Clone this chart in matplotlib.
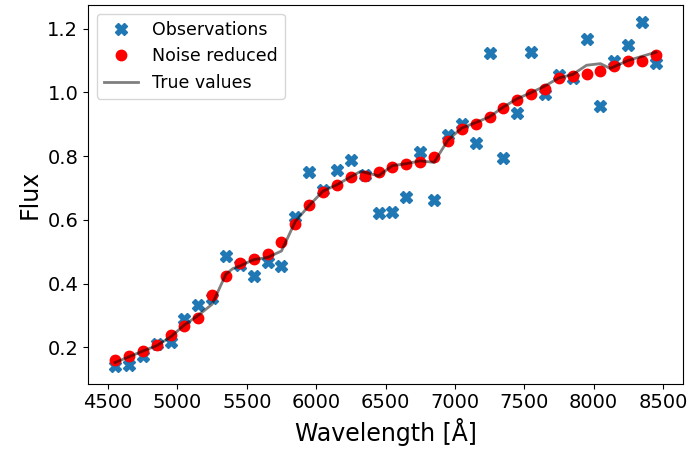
import matplotlib
matplotlib.use("Agg")
import matplotlib.pyplot as plt

wave = [4550, 4650, 4750, 4850, 4950, 5050, 5150, 5250, 5350, 5450,
        5550, 5650, 5750, 5850, 5950, 6050, 6150, 6250, 6350, 6450,
        6550, 6650, 6750, 6850, 6950, 7050, 7150, 7250, 7350, 7450,
        7550, 7650, 7750, 7850, 7950, 8050, 8150, 8250, 8350, 8450]

observed = [0.140, 0.143, 0.171, 0.209, 0.218, 0.288, 0.334, 0.353, 0.485, 0.459,
            0.422, 0.468, 0.455, 0.608, 0.751, 0.695, 0.757, 0.788, 0.742, 0.622,
            0.624, 0.673, 0.812, 0.663, 0.867, 0.901, 0.840, 1.124, 0.793, 0.934,
            1.126, 0.995, 1.054, 1.046, 1.166, 0.957, 1.098, 1.147, 1.220, 1.091]

reduced = [0.160, 0.174, 0.188, 0.207, 0.238, 0.268, 0.293, 0.365, 0.425, 0.463,
           0.477, 0.492, 0.529, 0.588, 0.645, 0.687, 0.709, 0.733, 0.737, 0.749,
           0.765, 0.775, 0.780, 0.798, 0.848, 0.884, 0.902, 0.921, 0.952, 0.976,
           0.996, 1.011, 1.045, 1.051, 1.059, 1.067, 1.084, 1.098, 1.098, 1.116]

true_wave = [4550, 4650, 4750, 4850, 4950, 5050, 5150, 5250, 5350, 5400,
             5450, 5550, 5650, 5750, 5850, 5950, 6050, 6150, 6250, 6320,
             6450, 6550, 6650, 6750, 6850, 6950, 7050, 7150, 7250, 7350,
             7450, 7550, 7650, 7750, 7850, 7950, 8050, 8120, 8250, 8350, 8450]
true_flux = [0.152, 0.170, 0.188, 0.205, 0.232, 0.270, 0.300, 0.335, 0.430, 0.447,
             0.455, 0.475, 0.482, 0.502, 0.595, 0.645, 0.690, 0.710, 0.735, 0.752,
             0.738, 0.770, 0.776, 0.785, 0.780, 0.850, 0.888, 0.905, 0.923, 0.954,
             0.980, 0.999, 1.020, 1.045, 1.056, 1.085, 1.090, 1.075, 1.100, 1.113, 1.126]

fig = plt.figure(figsize=(6.91, 4.55), dpi=100)
ax = fig.add_subplot(111)
fig.subplots_adjust(left=0.1274, right=0.9884, bottom=0.157, top=0.989)

ax.plot(wave, observed, linestyle='none', marker='X', color='#1f77b4',
        markersize=9, label='Observations')
ax.plot(wave, reduced, linestyle='none', marker='o', color='red',
        markersize=7.5, label='Noise reduced')
ax.plot(true_wave, true_flux, color='black', alpha=0.5, linewidth=2,
        label='True values')

ax.set_xlabel('Wavelength [Å]', fontsize=17)
ax.set_ylabel('Flux', fontsize=17)
ax.set_xticks([4500, 5000, 5500, 6000, 6500, 7000, 7500, 8000, 8500])
ax.set_yticks([0.2, 0.4, 0.6, 0.8, 1.0, 1.2])
ax.tick_params(labelsize=14)
ax.legend(loc='upper left', fontsize=12.5)

fig.savefig('out.png', dpi=100)
